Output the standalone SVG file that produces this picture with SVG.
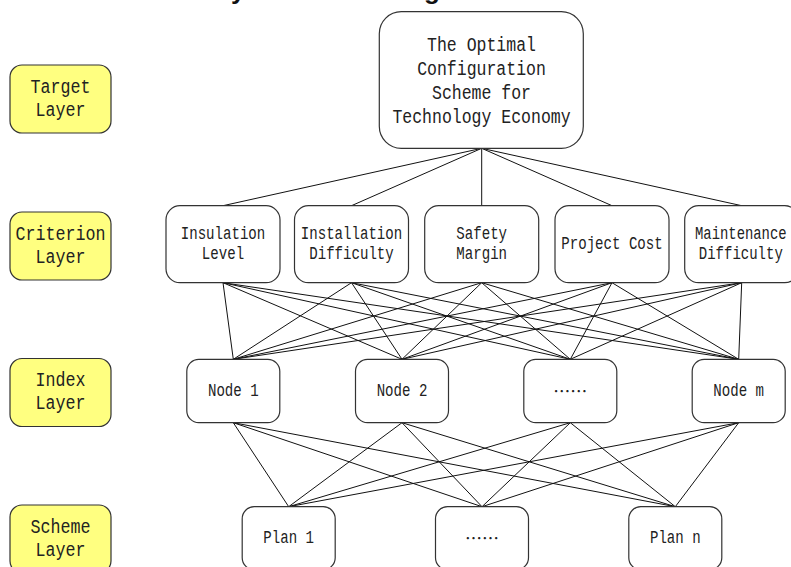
<svg xmlns="http://www.w3.org/2000/svg" width="791" height="567" viewBox="0 0 791 567">
  <style>
    .layer { fill: #ffff80; stroke: #333; stroke-width: 1.2; }
    .node { fill: #fff; stroke: #333; stroke-width: 1.2; }
    .lbl { font-family: "Liberation Mono", "DejaVu Sans Mono", monospace; fill: #222; text-anchor: middle; }
    .big { font-size: 20px; }
    .small { font-size: 18px; }
    .dots { font-family: "Noto Sans CJK SC", "Noto Sans", sans-serif; font-size: 17px; fill: #222; text-anchor: middle; }
    .cap { font-family: "Liberation Sans", Arial, sans-serif; font-weight: bold; font-size: 26px; fill: #111; }
    #connectors line { stroke: #111; stroke-width: 1; }
  </style>

  <!-- heading line running above the top edge -->
  <g id="caption">
    <text class="cap" x="231" y="-1">y</text>
    <text class="cap" x="424" y="-1">g</text>
  </g>

  <!-- connectors between hierarchy levels -->
  <g id="connectors">
    <!-- goal to criteria -->
    <line x1="481.7" y1="148.3" x2="223" y2="205.7"/>
    <line x1="481.7" y1="148.3" x2="351.5" y2="205.7"/>
    <line x1="481.7" y1="148.3" x2="481.7" y2="205.7"/>
    <line x1="481.7" y1="148.3" x2="612" y2="205.7"/>
    <line x1="481.7" y1="148.3" x2="741.7" y2="205.7"/>
    <!-- criteria to indices -->
    <line x1="223" y1="282.7" x2="233.3" y2="359.3"/>
    <line x1="223" y1="282.7" x2="402" y2="359.3"/>
    <line x1="223" y1="282.7" x2="570.3" y2="359.3"/>
    <line x1="223" y1="282.7" x2="738.7" y2="359.3"/>
    <line x1="351.5" y1="282.7" x2="233.3" y2="359.3"/>
    <line x1="351.5" y1="282.7" x2="402" y2="359.3"/>
    <line x1="351.5" y1="282.7" x2="570.3" y2="359.3"/>
    <line x1="351.5" y1="282.7" x2="738.7" y2="359.3"/>
    <line x1="481.7" y1="282.7" x2="233.3" y2="359.3"/>
    <line x1="481.7" y1="282.7" x2="402" y2="359.3"/>
    <line x1="481.7" y1="282.7" x2="570.3" y2="359.3"/>
    <line x1="481.7" y1="282.7" x2="738.7" y2="359.3"/>
    <line x1="612" y1="282.7" x2="233.3" y2="359.3"/>
    <line x1="612" y1="282.7" x2="402" y2="359.3"/>
    <line x1="612" y1="282.7" x2="570.3" y2="359.3"/>
    <line x1="612" y1="282.7" x2="738.7" y2="359.3"/>
    <line x1="741.7" y1="282.7" x2="233.3" y2="359.3"/>
    <line x1="741.7" y1="282.7" x2="402" y2="359.3"/>
    <line x1="741.7" y1="282.7" x2="570.3" y2="359.3"/>
    <line x1="741.7" y1="282.7" x2="738.7" y2="359.3"/>
    <!-- indices to plans -->
    <line x1="233.3" y1="422.7" x2="288.7" y2="506.7"/>
    <line x1="233.3" y1="422.7" x2="482" y2="506.7"/>
    <line x1="233.3" y1="422.7" x2="675.3" y2="506.7"/>
    <line x1="402" y1="422.7" x2="288.7" y2="506.7"/>
    <line x1="402" y1="422.7" x2="482" y2="506.7"/>
    <line x1="402" y1="422.7" x2="675.3" y2="506.7"/>
    <line x1="570.3" y1="422.7" x2="288.7" y2="506.7"/>
    <line x1="570.3" y1="422.7" x2="482" y2="506.7"/>
    <line x1="570.3" y1="422.7" x2="675.3" y2="506.7"/>
    <line x1="738.7" y1="422.7" x2="288.7" y2="506.7"/>
    <line x1="738.7" y1="422.7" x2="482" y2="506.7"/>
    <line x1="738.7" y1="422.7" x2="675.3" y2="506.7"/>
  </g>

  <!-- layer captions on the left -->
  <g id="layer-target">
    <rect class="layer" x="10" y="65" width="101" height="68" rx="12"/>
    <text class="lbl big" x="60.5" y="92.5" textLength="60" lengthAdjust="spacingAndGlyphs">Target</text>
    <text class="lbl big" x="60.5" y="115.5" textLength="50" lengthAdjust="spacingAndGlyphs">Layer</text>
  </g>
  <g id="layer-criterion">
    <rect class="layer" x="10" y="212" width="101" height="68" rx="12"/>
    <text class="lbl big" x="60.5" y="239.5" textLength="90" lengthAdjust="spacingAndGlyphs">Criterion</text>
    <text class="lbl big" x="60.5" y="262.5" textLength="50" lengthAdjust="spacingAndGlyphs">Layer</text>
  </g>
  <g id="layer-index">
    <rect class="layer" x="10" y="358.5" width="101" height="68" rx="12"/>
    <text class="lbl big" x="60.5" y="386.2" textLength="50" lengthAdjust="spacingAndGlyphs">Index</text>
    <text class="lbl big" x="60.5" y="409.2" textLength="50" lengthAdjust="spacingAndGlyphs">Layer</text>
  </g>
  <g id="layer-scheme">
    <rect class="layer" x="10" y="505" width="101" height="68" rx="12"/>
    <text class="lbl big" x="60.5" y="533" textLength="60" lengthAdjust="spacingAndGlyphs">Scheme</text>
    <text class="lbl big" x="60.5" y="556" textLength="50" lengthAdjust="spacingAndGlyphs">Layer</text>
  </g>

  <!-- goal -->
  <g id="goal">
    <rect class="node" x="379.3" y="11.7" width="204" height="136.6" rx="22"/>
    <text class="lbl big" x="481.5" y="50.5" textLength="108.9" lengthAdjust="spacingAndGlyphs">The Optimal</text>
    <text class="lbl big" x="481.5" y="74.5" textLength="128.7" lengthAdjust="spacingAndGlyphs">Configuration</text>
    <text class="lbl big" x="481.5" y="98.5" textLength="99" lengthAdjust="spacingAndGlyphs">Scheme for</text>
    <text class="lbl big" x="481.5" y="122.5" textLength="178.2" lengthAdjust="spacingAndGlyphs">Technology Economy</text>
  </g>

  <!-- criteria -->
  <g id="crit-insulation">
    <rect class="node" x="166" y="205.7" width="114" height="77" rx="14"/>
    <text class="lbl small" x="223" y="239.3" textLength="84.5" lengthAdjust="spacingAndGlyphs">Insulation</text>
    <text class="lbl small" x="223" y="259.3" textLength="42.3" lengthAdjust="spacingAndGlyphs">Level</text>
  </g>
  <g id="crit-installation">
    <rect class="node" x="294.5" y="205.7" width="114" height="77" rx="14"/>
    <text class="lbl small" x="351.5" y="239.3" textLength="101.4" lengthAdjust="spacingAndGlyphs">Installation</text>
    <text class="lbl small" x="351.5" y="259.3" textLength="84.5" lengthAdjust="spacingAndGlyphs">Difficulty</text>
  </g>
  <g id="crit-safety">
    <rect class="node" x="424.7" y="205.7" width="114" height="77" rx="14"/>
    <text class="lbl small" x="481.7" y="239.3" textLength="50.7" lengthAdjust="spacingAndGlyphs">Safety</text>
    <text class="lbl small" x="481.7" y="259.3" textLength="50.7" lengthAdjust="spacingAndGlyphs">Margin</text>
  </g>
  <g id="crit-cost">
    <rect class="node" x="555" y="205.7" width="114" height="77" rx="14"/>
    <text class="lbl small" x="612" y="249.3" textLength="101.4" lengthAdjust="spacingAndGlyphs">Project Cost</text>
  </g>
  <g id="crit-maintenance">
    <rect class="node" x="684.7" y="205.7" width="114" height="77" rx="14"/>
    <text class="lbl small" x="740.8" y="239.3" textLength="91.5" lengthAdjust="spacingAndGlyphs">Maintenance</text>
    <text class="lbl small" x="740.8" y="259.3" textLength="84" lengthAdjust="spacingAndGlyphs">Difficulty</text>
  </g>

  <!-- indices -->
  <g id="node-1">
    <rect class="node" x="186.8" y="359.3" width="93" height="63.4" rx="12"/>
    <text class="lbl small" x="233.3" y="396" textLength="50.7" lengthAdjust="spacingAndGlyphs">Node 1</text>
  </g>
  <g id="node-2">
    <rect class="node" x="355.5" y="359.3" width="93" height="63.4" rx="12"/>
    <text class="lbl small" x="402" y="396" textLength="50.7" lengthAdjust="spacingAndGlyphs">Node 2</text>
  </g>
  <g id="node-etc">
    <rect class="node" x="523.8" y="359.3" width="93" height="63.4" rx="12"/>
    <text class="dots" x="570.3" y="398">……</text>
  </g>
  <g id="node-m">
    <rect class="node" x="692.2" y="359.3" width="93" height="63.4" rx="12"/>
    <text class="lbl small" x="738.7" y="396" textLength="50.7" lengthAdjust="spacingAndGlyphs">Node m</text>
  </g>

  <!-- plans -->
  <g id="plan-1">
    <rect class="node" x="242.2" y="506.7" width="93" height="63" rx="12"/>
    <text class="lbl small" x="288.7" y="543.3" textLength="50.7" lengthAdjust="spacingAndGlyphs">Plan 1</text>
  </g>
  <g id="plan-etc">
    <rect class="node" x="435.5" y="506.7" width="93" height="63" rx="12"/>
    <text class="dots" x="482" y="545.3">……</text>
  </g>
  <g id="plan-n">
    <rect class="node" x="628.8" y="506.7" width="93" height="63" rx="12"/>
    <text class="lbl small" x="675.3" y="543.3" textLength="50.7" lengthAdjust="spacingAndGlyphs">Plan n</text>
  </g>
</svg>
